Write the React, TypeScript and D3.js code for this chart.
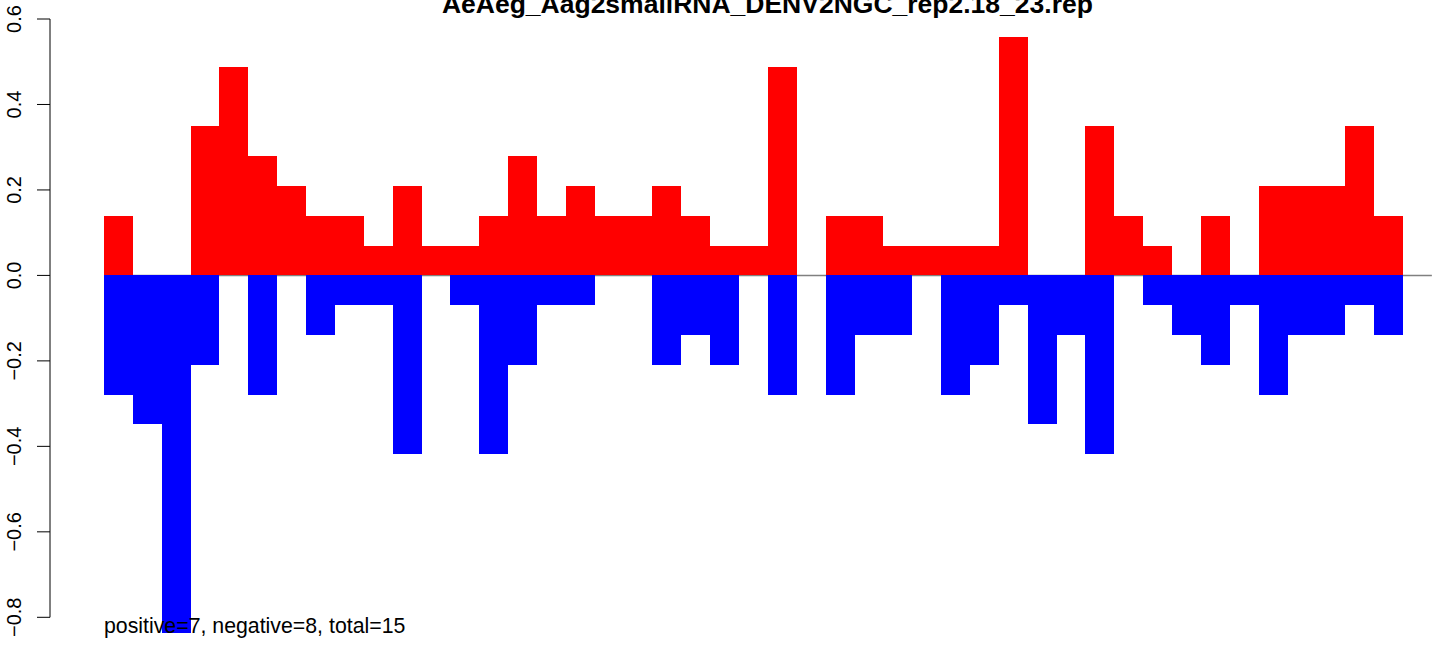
import React from "react";
import * as d3 from "d3";

const TITLE = "AeAeg_Aag2smallRNA_DENV2NGC_rep2.18_23.rep";
const NOTE = "positive=7, negative=8, total=15";

const positiveValues = [
  0.1394, 0, 0, 0.3485, 0.4879, 0.2788, 0.2091, 0.1394, 0.1394, 0.0697,
  0.2091, 0.0697, 0.0697, 0.1394, 0.2788, 0.1394, 0.2091, 0.1394, 0.1394, 0.2091,
  0.1394, 0.0697, 0.0697, 0.4879, 0, 0.1394, 0.1394, 0.0697, 0.0697, 0.0697,
  0.0697, 0.5576, 0, 0, 0.3485, 0.1394, 0.0697, 0, 0.1394, 0,
  0.2091, 0.2091, 0.2091, 0.3485, 0.1394,
];

const negativeValues = [
  -0.2788, -0.3485, -0.8364, -0.2091, 0, -0.2788, 0, -0.1394, -0.0697, -0.0697,
  -0.4182, 0, -0.0697, -0.4182, -0.2091, -0.0697, -0.0697, 0, 0, -0.2091,
  -0.1394, -0.2091, 0, -0.2788, 0, -0.2788, -0.1394, -0.1394, 0, -0.2788,
  -0.2091, -0.0697, -0.3485, -0.1394, -0.4182, 0, -0.0697, -0.1394, -0.2091, -0.0697,
  -0.2788, -0.1394, -0.1394, -0.0697, -0.1394,
];

const yTicks = [-0.8, -0.6, -0.4, -0.2, 0.0, 0.2, 0.4, 0.6];

export default function App() {
  const W = 1444;
  const H = 645;
  const n = positiveValues.length;
  const x = d3.scaleLinear().domain([0, n]).range([104, 1403]);
  const y = d3.scaleLinear().domain([-0.8, 0.6]).range([617.3, 19]);
  const fmt = (v: number) => {
    const s = d3.format(".1f")(Math.abs(v));
    return v < 0 ? "\u2212" + s : s;
  };
  const font = "'Liberation Sans', Arial, Helvetica, sans-serif";

  return (
    <svg
      width={W}
      height={H}
      style={{ position: "absolute", left: 0, top: 0, background: "#fff" }}
      fontFamily={font}
    >
      <line
        x1={x(0)}
        x2={x(n + 1)}
        y1={y(0)}
        y2={y(0)}
        stroke="#808080"
        strokeWidth={1.5}
      />
      <g shapeRendering="crispEdges">
        {positiveValues.map((v, i) =>
          v > 0 ? (
            <rect
              key={"p" + i}
              x={x(i)}
              width={x(i + 1) - x(i)}
              y={y(v)}
              height={y(0) - y(v)}
              fill="#ff0000"
            />
          ) : null
        )}
        {negativeValues.map((v, i) =>
          v < 0 ? (
            <rect
              key={"n" + i}
              x={x(i)}
              width={x(i + 1) - x(i)}
              y={y(0)}
              height={y(v) - y(0)}
              fill="#0000ff"
            />
          ) : null
        )}
      </g>
      <g>
        <line x1={50} x2={50} y1={y(0.6)} y2={y(-0.8)} stroke="#000" strokeWidth={1} />
        {yTicks.map((t) => (
          <g key={t}>
            <line x1={37} x2={50} y1={y(t)} y2={y(t)} stroke="#000" strokeWidth={1} />
            <text
              transform={`translate(21,${y(t)}) rotate(-90)`}
              textAnchor="middle"
              fontSize={20}
              fill="#000"
            >
              {fmt(t)}
            </text>
          </g>
        ))}
      </g>
      <text
        x={767.4}
        y={13}
        textAnchor="middle"
        fontSize={26.5}
        fontWeight="bold"
        fill="#000"
      >
        {TITLE}
      </text>
      <text x={104} y={633} fontSize={21.3} fill="#000">
        {NOTE}
      </text>
    </svg>
  );
}
